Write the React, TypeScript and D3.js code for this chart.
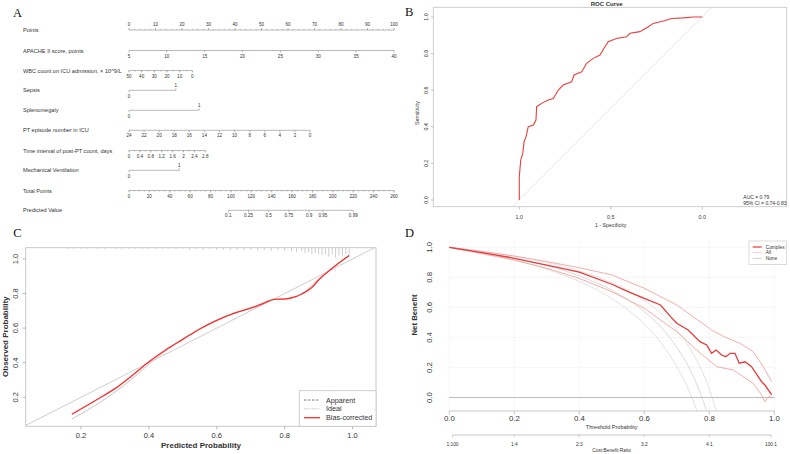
import React from "react";
import * as d3 from "d3";

const FONT = "Liberation Sans, Arial, Helvetica, sans-serif";
const SERIF = "Liberation Serif, Times New Roman, serif";

// ---------- Panel A: nomogram ----------
const rowLabels = [
  "Points",
  "APACHE II score, points",
  "WBC count on ICU admission, × 10^9/L",
  "Sepsis",
  "Splenomegaly",
  "PT episode number in ICU",
  "Time interval of post-PT count, days",
  "Mechanical Ventilation",
  "Total Points",
  "Predicted Value",
];
const pointTicks = [0, 10, 20, 30, 40, 50, 60, 70, 80, 90, 100];
const apacheTicks = [5, 10, 15, 20, 25, 30, 35, 40];
const apachePoints = 100; // points at APACHE = 40
const wbcTicks = [50, 40, 30, 20, 10, 0];
const wbcPoints = 23.9; // points at WBC = 0
const sepsisPoints = 17.7;
const splenoPoints = 26.5;
const ptTicks = [24, 22, 20, 18, 16, 14, 12, 10, 8, 6, 4, 2, 0];
const ptPoints = 68.3; // points at episode number 0
const timeTicks = [0, 0.4, 0.8, 1.2, 1.6, 2, 2.4, 2.8];
const timePoints = 28.8; // points at 2.8 days
const mvPoints = 19.0;
const totalTicks = [0, 20, 40, 60, 80, 100, 120, 140, 160, 180, 200, 220, 240, 260];
const predTicks = [0.1, 0.25, 0.5, 0.75, 0.9, 0.95, 0.99];
const predIntercept = 137.1; // total points at logit = 0
const predSlope = 18.05; // total points per logit unit

// ---------- Panel B: ROC ----------
const rocSpec = [1, 1, 0.992, 0.981, 0.974, 0.963, 0.951, 0.923, 0.909, 0.905, 0.878, 0.842, 0.814, 0.787, 0.76, 0.714, 0.701, 0.659, 0.632, 0.596, 0.559, 0.537, 0.514, 0.469, 0.414, 0.395, 0.341, 0.295, 0.268, 0.213, 0.167, 0.104, 0.049, 0];
const rocSens = [0, 0.128, 0.219, 0.255, 0.319, 0.346, 0.401, 0.41, 0.437, 0.51, 0.528, 0.546, 0.555, 0.601, 0.628, 0.646, 0.683, 0.701, 0.747, 0.774, 0.792, 0.829, 0.865, 0.883, 0.892, 0.911, 0.92, 0.947, 0.965, 0.978, 0.992, 0.995, 1, 1];
const rocTicksY = [0, 0.2, 0.4, 0.6, 0.8, 1];
const rocTicksX = [1, 0.5, 0];
const aucText = ["AUC = 0.79", "95% CI = 0.74-0.83"];

// ---------- Panel C: calibration ----------
const calTicks = [0.2, 0.4, 0.6, 0.8, 1.0];
const apparentX = [0.173, 0.25, 0.3, 0.35, 0.4, 0.45, 0.5, 0.6, 0.7, 0.77, 0.8, 0.85, 0.9, 0.95, 0.99];
const apparentY = [0.074, 0.163, 0.23, 0.305, 0.392, 0.468, 0.538, 0.647, 0.717, 0.766, 0.768, 0.797, 0.884, 0.962, 1.016];
const biasX = [0.173, 0.25, 0.3, 0.35, 0.4, 0.45, 0.5, 0.55, 0.6, 0.65, 0.7, 0.74, 0.77, 0.8, 0.83, 0.85, 0.88, 0.9, 0.95, 0.99];
const biasY = [0.102, 0.19, 0.25, 0.325, 0.405, 0.475, 0.535, 0.595, 0.645, 0.685, 0.715, 0.745, 0.766, 0.768, 0.78, 0.797, 0.835, 0.878, 0.962, 1.02];
const rugP = [0.16, 0.18, 0.2, 0.22, 0.25, 0.27, 0.3, 0.32, 0.34, 0.36, 0.38, 0.4, 0.42, 0.44, 0.46, 0.48, 0.5, 0.52, 0.54, 0.56, 0.58, 0.6, 0.62, 0.64, 0.66, 0.68, 0.7, 0.72, 0.74, 0.76, 0.78, 0.8, 0.82, 0.835, 0.85, 0.86, 0.87, 0.88, 0.89, 0.9, 0.91, 0.92, 0.93, 0.94, 0.95, 0.96, 0.97, 0.98, 0.99];
const rugN = [1, 1, 1, 1, 1, 1, 1, 1, 1, 1, 1, 1, 1, 1, 1, 1, 1, 2, 1, 2, 1, 2, 2, 2, 2, 2, 2, 2, 2, 3, 2, 3, 3, 4, 3, 5, 4, 6, 5, 6, 7, 6, 8, 6, 9, 7, 8, 6, 7];
const calLegend = ["Apparent", "Ideal", "Bias-corrected"];

// ---------- Panel D: decision curve ----------
const dcaTicks = [0, 0.2, 0.4, 0.6, 0.8, 1.0];
const costAt = [0.01, 0.2, 0.4, 0.6, 0.8, 0.99];
const costLabels = ["1:100", "1:4", "2:3", "3:2", "4:1", "100:1"];
const complexT = [0, 0.1, 0.2, 0.3, 0.4, 0.5, 0.55, 0.6, 0.65, 0.68, 0.7, 0.735, 0.771, 0.792, 0.807, 0.821, 0.838, 0.851, 0.864, 0.879, 0.892, 0.91, 0.93, 0.951, 0.961, 0.971, 0.992];
const complexNB = [1.0, 0.965, 0.927, 0.882, 0.834, 0.754, 0.705, 0.66, 0.616, 0.54, 0.494, 0.449, 0.372, 0.35, 0.294, 0.316, 0.283, 0.272, 0.294, 0.294, 0.228, 0.238, 0.205, 0.138, 0.105, 0.083, 0.017];
const upperT = [0, 0.1, 0.2, 0.3, 0.4, 0.5, 0.6, 0.7, 0.8, 0.807, 0.85, 0.894, 0.935, 0.966, 0.992];
const upperNB = [1.0, 0.972, 0.942, 0.905, 0.864, 0.816, 0.727, 0.616, 0.461, 0.449, 0.4, 0.361, 0.305, 0.205, 0.105];
const lowerT = [0, 0.1, 0.2, 0.3, 0.4, 0.5, 0.6, 0.7, 0.761, 0.823, 0.874, 0.935, 0.961, 0.971, 0.982, 0.992];
const lowerNB = [1.0, 0.958, 0.915, 0.86, 0.793, 0.705, 0.594, 0.438, 0.316, 0.205, 0.183, 0.094, 0.017, -0.028, 0.005, 0.0];
const allT1 = [0, 0.1, 0.2, 0.3, 0.4, 0.5, 0.55, 0.6, 0.65, 0.7, 0.725, 0.75, 0.765];
const allNB1 = [1, 0.962, 0.915, 0.854, 0.773, 0.66, 0.584, 0.489, 0.368, 0.205, 0.105, -0.02, -0.108];
const allT2 = [0, 0.1, 0.2, 0.3, 0.4, 0.5, 0.55, 0.6, 0.65, 0.7, 0.75, 0.775, 0.8];
const allNB2 = [1, 0.968, 0.929, 0.878, 0.81, 0.715, 0.651, 0.572, 0.47, 0.334, 0.144, 0.014, -0.141];
const allT3 = [0, 0.1, 0.2, 0.3, 0.4, 0.5, 0.55, 0.6, 0.65, 0.7, 0.75, 0.8, 0.83];
const allNB3 = [1, 0.974, 0.941, 0.899, 0.843, 0.764, 0.711, 0.646, 0.562, 0.449, 0.292, 0.056, -0.153];
const dcaLegend = ["Complex", "All", "None"];

const AX = "#8a8a8a";
const TXT = "#333";

function Nomogram() {
  const pts = d3.scaleLinear().domain([0, 100]).range([129, 394]);
  const tot = d3.scaleLinear().domain([0, 260]).range([129, 394]);
  const rowY = [30, 50.5, 70.5, 90.3, 110.3, 130.3, 150.5, 170.3, 190.5, 210.3];
  const fs = 4.6;

  const cont = (
    key: string,
    y: number,
    scale: d3.ScaleLinear<number, number>,
    ticks: number[],
    minor: number[],
    above: boolean,
    fmt: (v: number) => string
  ) => {
    const [a, b] = d3.extent(ticks.map((t) => scale(t))) as [number, number];
    const dir = above ? -1 : 1;
    return (
      <g key={key}>
        <line x1={a} x2={b} y1={y} y2={y} stroke={AX} strokeWidth={0.6} />
        {minor.map((m, i) => (
          <line key={"m" + i} x1={scale(m)} x2={scale(m)} y1={y} y2={y + dir * 1.1} stroke={AX} strokeWidth={0.5} />
        ))}
        {ticks.map((t, i) => (
          <g key={i}>
            <line x1={scale(t)} x2={scale(t)} y1={y} y2={y + dir * 2} stroke={AX} strokeWidth={0.6} />
            <text x={scale(t)} y={y + dir * 5.6} fontSize={fs} textAnchor="middle" dominantBaseline="central" fill={TXT}>
              {fmt(t)}
            </text>
          </g>
        ))}
      </g>
    );
  };

  const binary = (key: string, y: number, p: number) => {
    const x0 = pts(0);
    const x1 = pts(p);
    return (
      <g key={key}>
        <line x1={x0} x2={x1} y1={y} y2={y} stroke={AX} strokeWidth={0.6} />
        <line x1={x0} x2={x0} y1={y} y2={y + 2} stroke={AX} strokeWidth={0.6} />
        <line x1={x1} x2={x1} y1={y} y2={y - 2} stroke={AX} strokeWidth={0.6} />
        <text x={x0} y={y + 6.2} fontSize={fs} textAnchor="middle" dominantBaseline="central" fill={TXT}>0</text>
        <text x={x1} y={y - 5} fontSize={fs} textAnchor="middle" dominantBaseline="central" fill={TXT}>1</text>
      </g>
    );
  };

  const apache = d3.scaleLinear().domain([5, 40]).range([pts(0), pts(apachePoints)]);
  const wbc = d3.scaleLinear().domain([50, 0]).range([pts(0), pts(wbcPoints)]);
  const pt = d3.scaleLinear().domain([24, 0]).range([pts(0), pts(ptPoints)]);
  const time = d3.scaleLinear().domain([0, 2.8]).range([pts(0), pts(timePoints)]);
  const predX = (p: number) => tot(predIntercept + predSlope * Math.log(p / (1 - p)));
  const predScale = Object.assign((p: number) => predX(p), {}) as unknown as d3.ScaleLinear<number, number>;

  const range = (a: number, b: number, s: number) => {
    const out: number[] = [];
    for (let v = a; v <= b + 1e-9; v += s) out.push(+v.toFixed(4));
    return out;
  };

  return (
    <g fontFamily={FONT}>
      <text x={13} y={13} fontFamily={SERIF} fontSize={12.5} dominantBaseline="central" fill="#111">A</text>
      {rowLabels.map((l, i) => (
        <text key={l} x={23} y={rowY[i]} fontSize={5.6} dominantBaseline="central" fill={TXT}>{l}</text>
      ))}
      {cont("points", rowY[0], pts, pointTicks, range(0, 100, 2), true, String)}
      {cont("apache", rowY[1], apache, apacheTicks, [], false, String)}
      {cont("wbc", rowY[2], wbc, wbcTicks, range(0, 50, 5), false, String)}
      {binary("sepsis", rowY[3], sepsisPoints)}
      {binary("spleno", rowY[4], splenoPoints)}
      {cont("pt", rowY[5], pt, ptTicks, [], false, String)}
      {cont("time", rowY[6], time, timeTicks, range(0, 2.8, 0.2), false, String)}
      {binary("mv", rowY[7], mvPoints)}
      {cont("total", rowY[8], tot, totalTicks, range(0, 260, 5), false, String)}
      {cont("pred", rowY[9], predScale, predTicks, [], false, String)}
    </g>
  );
}

function RocPanel() {
  const box = { l: 433.3, r: 786.7, t: 7.3, b: 206.7 };
  const x = d3.scaleLinear().domain([1, 0]).range([519.3, 702.3]);
  const y = d3.scaleLinear().domain([0, 1]).range([200, 17]);
  const line = d3.line<number>().x((_, i) => x(rocSpec[i])).y((_, i) => y(rocSens[i]));
  // chance line y = 1 - specificity, extended across the box
  const diag = [-0.5, 1.5];
  return (
    <g fontFamily={FONT}>
      <defs>
        <clipPath id="rocClip">
          <rect x={box.l} y={box.t} width={box.r - box.l} height={box.b - box.t} />
        </clipPath>
      </defs>
      <text x={405} y={12.3} fontFamily={SERIF} fontSize={12.5} dominantBaseline="central" fill="#111">B</text>
      <text x={606.7} y={4} fontSize={6} fontWeight="bold" textAnchor="middle" dominantBaseline="central" fill={TXT}>ROC Curve</text>
      <rect x={box.l} y={box.t} width={box.r - box.l} height={box.b - box.t} fill="none" stroke="#c4c4c4" strokeWidth={0.8} />
      <line clipPath="url(#rocClip)" x1={x(diag[0])} y1={y(1 - diag[0])} x2={x(diag[1])} y2={y(1 - diag[1])} stroke="#d2d2d2" strokeWidth={0.6} />
      <path d={line(rocSpec) || ""} fill="none" stroke="#e8403c" strokeWidth={1.1} />
      {rocTicksY.map((t) => (
        <g key={t}>
          <line x1={box.l} x2={box.l - 2.5} y1={y(t)} y2={y(t)} stroke={AX} strokeWidth={0.5} />
          <text transform={`translate(426,${y(t)}) rotate(-90)`} fontSize={5.3} textAnchor="middle" dominantBaseline="central" fill={TXT}>{t.toFixed(1)}</text>
        </g>
      ))}
      {rocTicksX.map((t) => (
        <g key={t}>
          <line x1={x(t)} x2={x(t)} y1={box.b} y2={box.b + 3} stroke={AX} strokeWidth={0.5} />
          <text x={x(t)} y={216.5} fontSize={5.3} textAnchor="middle" dominantBaseline="central" fill={TXT}>{t.toFixed(1)}</text>
        </g>
      ))}
      <text x={610.7} y={225.3} fontSize={5.3} textAnchor="middle" dominantBaseline="central" fill={TXT}>1 - Specificity</text>
      <text transform="translate(417.3,113) rotate(-90)" fontSize={5.3} textAnchor="middle" dominantBaseline="central" fill={TXT}>Sensitivity</text>
      {aucText.map((t, i) => (
        <text key={t} x={743.3} y={196.7 + i * 6} fontSize={5} dominantBaseline="central" fill={TXT}>{t}</text>
      ))}
    </g>
  );
}

function CalibrationPanel() {
  const box = { l: 25.7, r: 376, t: 247.7, b: 426.3 };
  const x = d3.scaleLinear().domain([0.037, 1.069]).range([box.l, box.r]);
  const y = d3.scaleLinear().domain([0.032, 1.065]).range([box.b, box.t]);
  const mk = (xs: number[], ys: number[]) =>
    d3.line<number>().x((d) => x(d)).y((_, i) => y(ys[i])).curve(d3.curveMonotoneX)(xs) || "";
  return (
    <g fontFamily={FONT}>
      <defs>
        <clipPath id="calClip">
          <rect x={box.l} y={box.t} width={box.r - box.l} height={box.b - box.t} />
        </clipPath>
      </defs>
      <text x={13.3} y={233.3} fontFamily={SERIF} fontSize={12.5} dominantBaseline="central" fill="#111">C</text>
      <g clipPath="url(#calClip)">
        <line x1={x(0)} y1={y(0)} x2={x(1.1)} y2={y(1.1)} stroke="#b8b8b8" strokeWidth={0.7} />
        <path d={mk(apparentX, apparentY)} fill="none" stroke="#c6c6c6" strokeWidth={1} />
        <path d={mk(biasX, biasY)} fill="none" stroke="#ff2b2b" strokeWidth={1.3} />
        {rugP.map((p, i) => (
          <line key={i} x1={x(p)} x2={x(p)} y1={box.t} y2={box.t + rugN[i] * 1.1} stroke="#9a9a9a" strokeWidth={0.5} />
        ))}
      </g>
      <rect x={box.l} y={box.t} width={box.r - box.l} height={box.b - box.t} fill="none" stroke="#c4c4c4" strokeWidth={0.9} />
      {calTicks.map((t) => (
        <g key={t}>
          <line x1={x(t)} x2={x(t)} y1={box.b} y2={box.b + 3} stroke={AX} strokeWidth={0.6} />
          <text x={x(t)} y={435.7} fontSize={7.5} textAnchor="middle" dominantBaseline="central" fill={TXT}>{t.toFixed(1)}</text>
          <line x1={box.l} x2={box.l - 3} y1={y(t)} y2={y(t)} stroke={AX} strokeWidth={0.6} />
          <text transform={`translate(15,${y(t)}) rotate(-90)`} fontSize={7.5} textAnchor="middle" dominantBaseline="central" fill={TXT}>{t.toFixed(1)}</text>
        </g>
      ))}
      <text x={201} y={445.7} fontSize={8} fontWeight="bold" textAnchor="middle" dominantBaseline="central" fill={TXT}>Predicted Probability</text>
      <text transform="translate(5.5,336.7) rotate(-90)" fontSize={8} fontWeight="bold" textAnchor="middle" dominantBaseline="central" fill={TXT}>Observed Probability</text>
      <rect x={299.3} y={390.7} width={76.7} height={35.6} fill="#fff" stroke="#c4c4c4" strokeWidth={0.8} />
      {calLegend.map((l, i) => {
        const ly = 400 + i * 8.85;
        const st = i === 0 ? { stroke: "#555", dash: "2.5,1.5", w: 0.8 } : i === 1 ? { stroke: "#aaa", dash: "0.8,0.8", w: 0.8 } : { stroke: "#ff2b2b", dash: "", w: 1.3 };
        return (
          <g key={l}>
            <line x1={304} x2={320} y1={ly} y2={ly} stroke={st.stroke} strokeDasharray={st.dash} strokeWidth={st.w} />
            <text x={326} y={ly} fontSize={7.2} dominantBaseline="central" fill={TXT}>{l}</text>
          </g>
        );
      })}
    </g>
  );
}

function DcaPanel() {
  const x = d3.scaleLinear().domain([0, 1]).range([449.3, 774.3]);
  const y = d3.scaleLinear().domain([0, 1]).range([397.5, 247.3]);
  const clip = { l: 436, r: 787, t: 241, b: 411 };
  const mk = (ts: number[], vs: number[], smooth: boolean) =>
    d3.line<number>().x((d) => x(d)).y((_, i) => y(vs[i])).curve(smooth ? d3.curveMonotoneX : d3.curveLinear)(ts) || "";
  return (
    <g fontFamily={FONT}>
      <defs>
        <clipPath id="dcaClip">
          <rect x={clip.l} y={clip.t} width={clip.r - clip.l} height={clip.b - clip.t} />
        </clipPath>
      </defs>
      <text x={405} y={233} fontFamily={SERIF} fontSize={12.5} dominantBaseline="central" fill="#111">D</text>
      {dcaTicks.map((t) => (
        <g key={"g" + t}>
          <line x1={x(t)} x2={x(t)} y1={clip.t} y2={clip.b} stroke="#f0f0f0" strokeWidth={0.6} />
          <line x1={x(0)} x2={x(1)} y1={y(t)} y2={y(t)} stroke="#f0f0f0" strokeWidth={0.6} />
        </g>
      ))}
      <g clipPath="url(#dcaClip)">
        <path d={mk(allT1, allNB1, true)} fill="none" stroke="#dadada" strokeWidth={0.8} />
        <path d={mk(allT2, allNB2, true)} fill="none" stroke="#d2d2d2" strokeWidth={0.8} />
        <path d={mk(allT3, allNB3, true)} fill="none" stroke="#dadada" strokeWidth={0.8} />
        <line x1={x(0)} x2={x(1)} y1={y(0)} y2={y(0)} stroke="#bdbdbd" strokeWidth={1} />
        <path d={mk(upperT, upperNB, false)} fill="none" stroke="#f4a3a3" strokeWidth={0.9} />
        <path d={mk(lowerT, lowerNB, false)} fill="none" stroke="#f4a3a3" strokeWidth={0.9} />
        <path d={mk(complexT, complexNB, false)} fill="none" stroke="#e83a3a" strokeWidth={1.3} />
      </g>
      <line x1={x(0)} x2={x(1)} y1={411} y2={411} stroke="#b0b0b0" strokeWidth={0.7} />
      {dcaTicks.map((t) => (
        <g key={t}>
          <line x1={x(t)} x2={x(t)} y1={411} y2={414.5} stroke="#b0b0b0" strokeWidth={0.7} />
          <text x={x(t)} y={418.6} fontSize={7.8} textAnchor="middle" dominantBaseline="central" fill={TXT}>{t.toFixed(1)}</text>
          <text transform={`translate(429.5,${y(t)}) rotate(-90)`} fontSize={7.8} textAnchor="middle" dominantBaseline="central" fill={TXT}>{t.toFixed(1)}</text>
        </g>
      ))}
      <text x={611.7} y={427.3} fontSize={5.5} textAnchor="middle" dominantBaseline="central" fill={TXT}>Threshold Probability</text>
      <text transform="translate(414.5,315) rotate(-90)" fontSize={7.8} fontWeight="bold" textAnchor="middle" dominantBaseline="central" fill={TXT}>Net Benefit</text>
      <line x1={x(costAt[0])} x2={x(costAt[costAt.length - 1])} y1={435} y2={435} stroke="#b0b0b0" strokeWidth={0.7} />
      {costAt.map((t, i) => (
        <g key={t}>
          <line x1={x(t)} x2={x(t)} y1={435} y2={437.5} stroke="#b0b0b0" strokeWidth={0.6} />
          <text x={x(t)} y={444} fontSize={4.8} textAnchor="middle" dominantBaseline="central" fill={TXT}>{costLabels[i]}</text>
        </g>
      ))}
      <text x={611.7} y={450.3} fontSize={4.8} textAnchor="middle" dominantBaseline="central" fill={TXT}>Cost:Benefit Ratio</text>
      <rect x={749} y={241} width={37.7} height={23.3} fill="#fff" stroke="#c4c4c4" strokeWidth={0.6} />
      {dcaLegend.map((l, i) => {
        const ly = 247 + i * 5.7;
        const col = i === 0 ? "#e83a3a" : i === 1 ? "#f0c6c6" : "#c8c8c8";
        return (
          <g key={l}>
            <line x1={752.7} x2={761.7} y1={ly} y2={ly} stroke={col} strokeWidth={i === 0 ? 1.2 : 0.9} />
            <text x={765.7} y={ly} fontSize={4.8} dominantBaseline="central" fill={TXT}>{l}</text>
          </g>
        );
      })}
    </g>
  );
}

export default function App() {
  return (
    <svg
      width={790}
      height={454}
      viewBox="0 0 790 454"
      style={{ position: "absolute", left: 0, top: 0, background: "#fff" }}
    >
      <rect width={790} height={454} fill="#fff" />
      <Nomogram />
      <RocPanel />
      <CalibrationPanel />
      <DcaPanel />
    </svg>
  );
}
